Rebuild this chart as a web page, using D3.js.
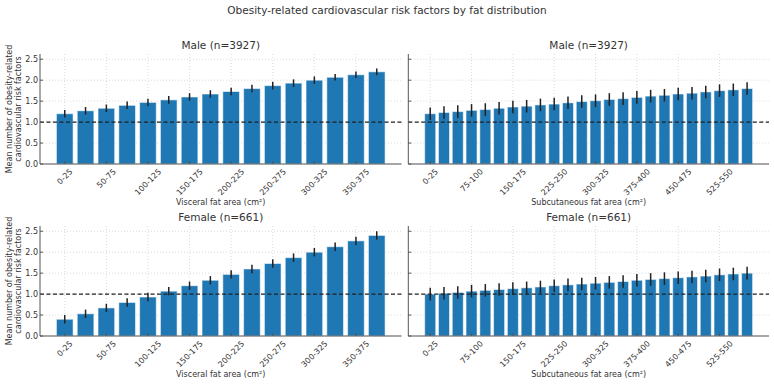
<!DOCTYPE html>
<html lang="en">
<head>
<meta charset="UTF-8" />
<title>Obesity-related cardiovascular risk factors</title>
<script src="https://d3js.org/d3.v7.min.js"></script>
<style>
    body { margin: 0; background: #fff; font-family: 'DejaVu Sans', sans-serif; }
    text { fill: #333; }
</style>
</head>
<body>
<svg width="774" height="384"></svg>
<script>

// bins for visceral (16) and subcutaneous (24) fat area
var visceralBins = ["0-25","25-50","50-75","75-100","100-125","125-150","150-175","175-200",
    "200-225","225-250","250-275","275-300","300-325","325-350","350-375","375-400"];
var subcutBins = ["0-25","25-50","50-75","75-100","100-125","125-150","150-175","175-200",
    "200-225","225-250","250-275","275-300","300-325","325-350","350-375","375-400",
    "400-425","425-450","450-475","475-500","500-525","525-550","550-575","575-600"];

// mean values
var maleVisceral = [1.20,1.27,1.33,1.40,1.47,1.53,1.60,1.67,1.73,1.80,1.87,1.93,2.00,2.07,2.13,2.20];
var maleVisceralErr = [0.09,0.09,0.09,0.09,0.09,0.09,0.09,0.09,0.09,0.09,0.09,0.09,0.09,0.08,0.08,0.08];
var maleSubcut = [1.20,1.23,1.25,1.28,1.30,1.33,1.36,1.38,1.41,1.43,1.46,1.49,
    1.51,1.54,1.56,1.59,1.62,1.64,1.67,1.69,1.72,1.75,1.77,1.80];
var maleSubcutErr = [0.15,0.15,0.15,0.15,0.15,0.15,0.15,0.15,0.15,0.15,0.15,0.15,
    0.15,0.15,0.15,0.15,0.15,0.15,0.15,0.15,0.15,0.15,0.15,0.15];
var femaleVisceral = [0.40,0.53,0.67,0.80,0.93,1.07,1.20,1.33,1.47,1.60,1.73,1.87,2.00,2.13,2.27,2.40];
var femaleVisceralErr = [0.10,0.10,0.10,0.10,0.10,0.10,0.10,0.10,0.10,0.10,0.10,0.10,0.10,0.10,0.10,0.10];
var femaleSubcut = [1.00,1.02,1.04,1.07,1.09,1.11,1.13,1.15,1.17,1.20,1.22,1.24,
    1.26,1.28,1.30,1.33,1.35,1.37,1.39,1.41,1.43,1.46,1.48,1.50];
var femaleSubcutErr = [0.15,0.15,0.15,0.15,0.15,0.15,0.15,0.15,0.15,0.15,0.15,0.15,
    0.15,0.15,0.15,0.15,0.15,0.15,0.15,0.15,0.15,0.15,0.15,0.15];

var yTicks = [0, 0.5, 1.0, 1.5, 2.0, 2.5];
var yMax = 2.625;

var svg = d3.select("svg");

svg.append("text")
    .attr("x", 387).attr("y", 14)
    .attr("text-anchor", "middle")
    .attr("font-size", "10.5px")
    .text("Obesity-related cardiovascular risk factors by fat distribution");

// panel boxes
var panels = [
    {title: "Male (n=3927)", bins: visceralBins, vals: maleVisceral, err: maleVisceralErr,
     xlab: "Visceral fat area (cm\u00B2)", every: 2, x0: 40, x1: 401.5, y0: 54, y1: 164, ylabel: true},
    {title: "Male (n=3927)", bins: subcutBins, vals: maleSubcut, err: maleSubcutErr,
     xlab: "Subcutaneous fat area (cm\u00B2)", every: 3, x0: 408.3, x1: 769, y0: 54, y1: 164, ylabel: false},
    {title: "Female (n=661)", bins: visceralBins, vals: femaleVisceral, err: femaleVisceralErr,
     xlab: "Visceral fat area (cm\u00B2)", every: 2, x0: 40, x1: 401.5, y0: 226, y1: 336, ylabel: true},
    {title: "Female (n=661)", bins: subcutBins, vals: femaleSubcut, err: femaleSubcutErr,
     xlab: "Subcutaneous fat area (cm\u00B2)", every: 3, x0: 408.3, x1: 769, y0: 226, y1: 336, ylabel: false}
];

panels.forEach(function(p) {
    var n = p.bins.length;
    var pad = 0.05 * (n - 1 + 0.8);
    // linear scale on bar index, like matplotlib's auto margins
    var x = d3.scaleLinear().domain([-0.4 - pad, n - 0.6 + pad]).range([p.x0, p.x1]);
    var y = d3.scaleLinear().domain([0, yMax]).range([p.y1, p.y0]);
    var bw = x(0.8) - x(0);

    var g = svg.append("g");
    var tickIdx = d3.range(0, n, p.every);

    // grid
    g.append("g").selectAll("line").data(yTicks).enter().append("line")
        .attr("x1", p.x0).attr("x2", p.x1)
        .attr("y1", function(d) { return y(d); }).attr("y2", function(d) { return y(d); })
        .attr("stroke", "#d0d0d0").attr("stroke-width", 0.8).attr("stroke-dasharray", "1,2");
    g.append("g").selectAll("line").data(tickIdx).enter().append("line")
        .attr("x1", function(d) { return x(d); }).attr("x2", function(d) { return x(d); })
        .attr("y1", p.y0).attr("y2", p.y1)
        .attr("stroke", "#d0d0d0").attr("stroke-width", 0.8).attr("stroke-dasharray", "1,2");

    // bars
    g.append("g").selectAll("rect").data(p.vals).enter().append("rect")
        .attr("x", function(d, i) { return x(i - 0.4); })
        .attr("y", function(d) { return y(d); })
        .attr("width", bw)
        .attr("height", function(d) { return y(0) - y(d); })
        .attr("fill", "#1f77b4")
        .attr("stroke", "#ffffff").attr("stroke-opacity", 0.55).attr("stroke-width", 1);

    // error bars
    g.append("g").selectAll("line").data(p.vals).enter().append("line")
        .attr("x1", function(d, i) { return x(i); }).attr("x2", function(d, i) { return x(i); })
        .attr("y1", function(d, i) { return y(d - p.err[i]); })
        .attr("y2", function(d, i) { return y(d + p.err[i]); })
        .attr("stroke", "#222").attr("stroke-width", 1.5);

    // reference line at 1.0
    g.append("line")
        .attr("x1", p.x0).attr("x2", p.x1).attr("y1", y(1)).attr("y2", y(1))
        .attr("stroke", "#222").attr("stroke-width", 1.2).attr("stroke-dasharray", "4,2.5");

    // spines
    g.append("line").attr("x1", p.x0).attr("x2", p.x0).attr("y1", p.y0).attr("y2", p.y1)
        .attr("stroke", "#555").attr("stroke-width", 1);
    g.append("line").attr("x1", p.x0).attr("x2", p.x1).attr("y1", p.y1).attr("y2", p.y1)
        .attr("stroke", "#555").attr("stroke-width", 1);

    // y ticks
    g.append("g").selectAll("line").data(yTicks).enter().append("line")
        .attr("x1", p.x0).attr("x2", p.x0 + 3)
        .attr("y1", function(d) { return y(d); }).attr("y2", function(d) { return y(d); })
        .attr("stroke", "#555");
    if (p.ylabel) {
        g.append("g").selectAll("text").data(yTicks).enter().append("text")
            .attr("x", p.x0 - 2).attr("y", function(d) { return y(d); })
            .attr("dy", "0.35em").attr("text-anchor", "end").attr("font-size", "8px")
            .text(function(d) { return d3.format(".1f")(d); });
        var yl = g.append("text")
            .attr("transform", "translate(12," + ((p.y0 + p.y1) / 2) + ") rotate(-90)")
            .attr("text-anchor", "middle").attr("font-size", "8px");
        yl.append("tspan").attr("x", 0).attr("dy", 0).text("Mean number of obesity-related");
        yl.append("tspan").attr("x", 0).attr("dy", "1.15em").text("cardiovascular risk factors");
    }

    // x ticks
    g.append("g").selectAll("line").data(tickIdx).enter().append("line")
        .attr("x1", function(d) { return x(d); }).attr("x2", function(d) { return x(d); })
        .attr("y1", p.y1).attr("y2", p.y1 - 3)
        .attr("stroke", "#555");
    // labels centred under the tick, rotated 45 degrees, top of their box just below the axis
    g.append("g").selectAll("text").data(tickIdx).enter().append("text")
        .attr("text-anchor", "middle").attr("dy", "0.35em").attr("font-size", "8px")
        .text(function(d) { return p.bins[d]; })
        .attr("transform", function(d) {
            var L = this.getComputedTextLength();
            var half = (L + 6) * 0.3536;
            return "translate(" + x(d) + "," + (p.y1 + 4 + half) + ") rotate(-45)";
        });

    g.append("text")
        .attr("x", (p.x0 + p.x1) / 2).attr("y", p.y1 + 40.5)
        .attr("text-anchor", "middle").attr("font-size", "8px")
        .text(p.xlab);

    g.append("text")
        .attr("x", (p.x0 + p.x1) / 2).attr("y", p.y0 - 5)
        .attr("text-anchor", "middle").attr("font-size", "10.5px")
        .text(p.title);
});

</script>
</body>
</html>
